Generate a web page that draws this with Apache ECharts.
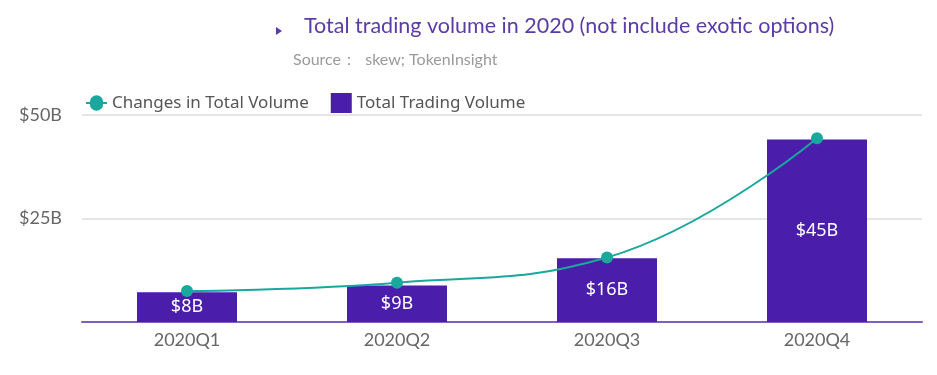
<!DOCTYPE html>
<html>
<head>
<meta charset="utf-8">
<script src="https://cdn.jsdelivr.net/npm/echarts@6/dist/echarts.min.js"></script>
<style>
html,body{margin:0;padding:0;background:#fff;}
#c{width:937px;height:375px;}
</style>
</head>
<body>
<div id="c"></div>
<script>
var categories = ["2020Q1", "2020Q2", "2020Q3", "2020Q4"];
var tradingVolume = [7.2, 8.8, 15.4, 44.1];
var tradingLabels = ["$8B", "$9B", "$16B", "$45B"];
var changesVolume = [7.5, 9.5, 15.6, 44.4];
var yTicks = [0, 25, 50];

var lineIcon = 'path://M0,9 L4,9 A7,7 0 0 1 18,9 L22,9 L22,11 L18,11 A7,7 0 0 1 4,11 L0,11 Z';

var chart = echarts.init(document.getElementById('c'));
chart.setOption({
  backgroundColor: '#ffffff',
  animation: false,
  title: [
    {
      text: 'Total trading volume in 2020 (not include exotic options)',
      left: 299, top: 10,
      textStyle: {fontFamily: 'Lato', fontSize: 21.5, fontWeight: 'normal', color: '#5b3ba6'}
    },
    {
      text: 'Source：  skew; TokenInsight',
      left: 288, top: 47,
      textStyle: {fontFamily: 'Lato', fontSize: 16, fontWeight: 'normal', color: '#9a9a9a'}
    }
  ],
  graphic: [
    {type: 'polygon', shape: {points: [[276, 27], [282, 31], [276, 35]]}, style: {fill: '#5b3ba6'}}
  ],
  legend: {
    left: 81, top: 88,
    itemWidth: 21, itemHeight: 20, itemGap: 22,
    textStyle: {fontFamily: 'Noto Sans', fontSize: 17, color: '#555555'},
    data: [
      {name: 'Changes in Total Volume', icon: lineIcon, itemStyle: {color: '#1aa79d'}},
      {name: 'Total Trading Volume', icon: 'rect'}
    ]
  },
  grid: {left: 82, right: 15, top: 115, bottom: 53},
  xAxis: {
    type: 'category',
    data: categories,
    axisLine: {lineStyle: {color: '#7d5fc9', width: 2}},
    axisTick: {show: false},
    axisLabel: {fontFamily: 'Lato', fontSize: 18, color: '#666666', margin: 9}
  },
  yAxis: {
    type: 'value',
    min: yTicks[0], max: yTicks[yTicks.length - 1], interval: 25,
    axisLine: {show: false},
    axisTick: {show: false},
    splitLine: {lineStyle: {color: '#dcdcdc', width: 1.5}},
    axisLabel: {
      fontFamily: 'Lato', fontSize: 18, color: '#666666', margin: 20,
      formatter: function (v) { return v === 0 ? '' : '$' + v + 'B'; }
    }
  },
  series: [
    {
      name: 'Total Trading Volume',
      type: 'bar',
      data: tradingVolume,
      barWidth: 100,
      itemStyle: {color: '#4a1daa'},
      label: {
        show: true, position: 'inside',
        fontFamily: 'Noto Sans', fontSize: 18, color: '#ffffff',
        formatter: function (p) { return tradingLabels[p.dataIndex]; }
      },
      z: 2
    },
    {
      name: 'Changes in Total Volume',
      type: 'line',
      data: changesVolume,
      smooth: 0.45,
      symbol: 'circle',
      symbolSize: 12,
      lineStyle: {color: '#1aa79d', width: 2},
      itemStyle: {color: '#1aa79d'},
      z: 5
    }
  ]
});
</script>
</body>
</html>
